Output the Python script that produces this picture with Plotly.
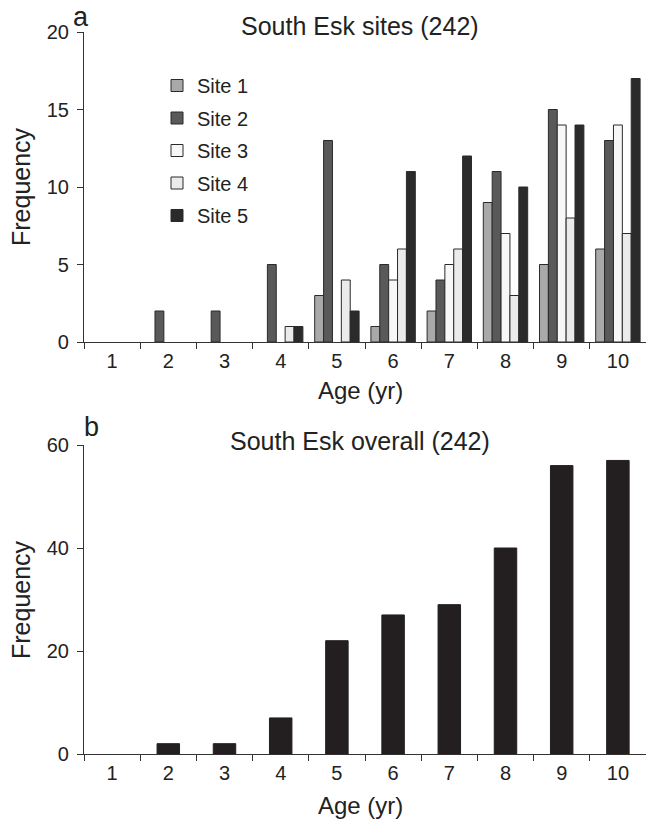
import plotly.graph_objects as go

ages = ["1", "2", "3", "4", "5", "6", "7", "8", "9", "10"]
site1 = [0, 0, 0, 0, 3, 1, 2, 9, 5, 6]
site2 = [0, 2, 2, 5, 13, 5, 4, 11, 15, 13]
site3 = [0, 0, 0, 0, 0, 4, 5, 7, 14, 14]
site4 = [0, 0, 0, 1, 4, 6, 6, 3, 8, 7]
site5 = [0, 0, 0, 1, 2, 11, 12, 10, 14, 17]
overall = [0, 2, 2, 7, 22, 27, 29, 40, 56, 57]

site_names = ["Site 1", "Site 2", "Site 3", "Site 4", "Site 5"]
site_colors = ["#a9a9a9", "#595959", "#f7f7f7", "#ebebeb", "#2b2b2b"]

W, H = 646, 820
L, R = 84, 0
PW = W - L - R
FONT = "Liberation Sans, Arial, Helvetica, sans-serif"
TXT = "#222222"


def px(x):
    return (x - L) / PW


def py(y):
    return 1 - y / H


def nonzero(vals):
    # zero-height bars are not drawn (no flat outline at the baseline)
    return [v if v > 0 else None for v in vals]


fig = go.Figure()
for name, vals, col in zip(site_names, [site1, site2, site3, site4, site5], site_colors):
    fig.add_trace(go.Bar(
        x=ages, y=nonzero(vals), name=name, xaxis="x", yaxis="y", legendgroup=name,
        marker=dict(color=col, line=dict(color="#2a2a2a", width=1)),
    ))

fig.add_trace(go.Bar(
    x=ages, y=nonzero(overall), name="Overall", xaxis="x2", yaxis="y2", showlegend=False,
    width=0.4, marker=dict(color="#231f20", line=dict(color="#231f20", width=1)),
))

axis_common = dict(
    showgrid=False, zeroline=False, showline=True, linecolor="#333333", linewidth=1.2,
    ticks="outside", tickcolor="#333333", tickwidth=1.2, ticklen=6, automargin=False,
    tickfont=dict(family=FONT, size=20, color=TXT),
)

fig.update_layout(
    width=W, height=H,
    margin=dict(l=L, r=R, t=0, b=0, autoexpand=False),
    paper_bgcolor="white", plot_bgcolor="white",
    barmode="group", bargap=0.21, bargroupgap=0,
    font=dict(family=FONT, color=TXT),
    xaxis=dict(axis_common, type="category", tickson="boundaries", anchor="y",
               domain=[0, 1], range=[-0.5, 9.5], ticklabelstandoff=1),
    yaxis=dict(axis_common, anchor="x", domain=[py(342), py(32)], range=[0, 20],
               tickvals=[0, 5, 10, 15, 20], ticklabelstandoff=4),
    xaxis2=dict(axis_common, type="category", tickson="boundaries", anchor="y2",
                domain=[0, 1], range=[-0.5, 9.5], ticklabelstandoff=1),
    yaxis2=dict(axis_common, anchor="x2", domain=[py(754), py(445)], range=[0, 60],
                tickvals=[0, 20, 40, 60], ticklabelstandoff=4),
    legend=dict(
        x=px(157), y=py(66), xanchor="left", yanchor="top",
        font=dict(family=FONT, size=20, color=TXT), tracegroupgap=3.5,
        bgcolor="rgba(0,0,0,0)", traceorder="grouped",
    ),
    showlegend=True,
)

annots = [
    dict(text="South Esk sites (242)", x=px(360), y=py(26), size=25),
    dict(text="South Esk overall (242)", x=px(360), y=py(441), size=25),
    dict(text="a", x=px(81), y=py(17), size=27),
    dict(text="b", x=px(91), y=py(427), size=27),
    dict(text="Age (yr)", x=px(360), y=py(390), size=24),
    dict(text="Age (yr)", x=px(360), y=py(805), size=24),
]
for a in annots:
    fig.add_annotation(text=a["text"], x=a["x"], y=a["y"], xref="paper", yref="paper",
                       xanchor="center", yanchor="middle", showarrow=False,
                       font=dict(family=FONT, size=a["size"], color=TXT))
for yy in (187, 600):
    fig.add_annotation(text="Frequency", x=px(21), y=py(yy), xref="paper", yref="paper",
                       xanchor="center", yanchor="middle", showarrow=False, textangle=-90,
                       font=dict(family=FONT, size=25, color=TXT))

fig.write_html(
    "out.html",
    config={"displayModeBar": False},
    post_script="document.body.style.margin='0';document.body.style.overflow='hidden';",
)
